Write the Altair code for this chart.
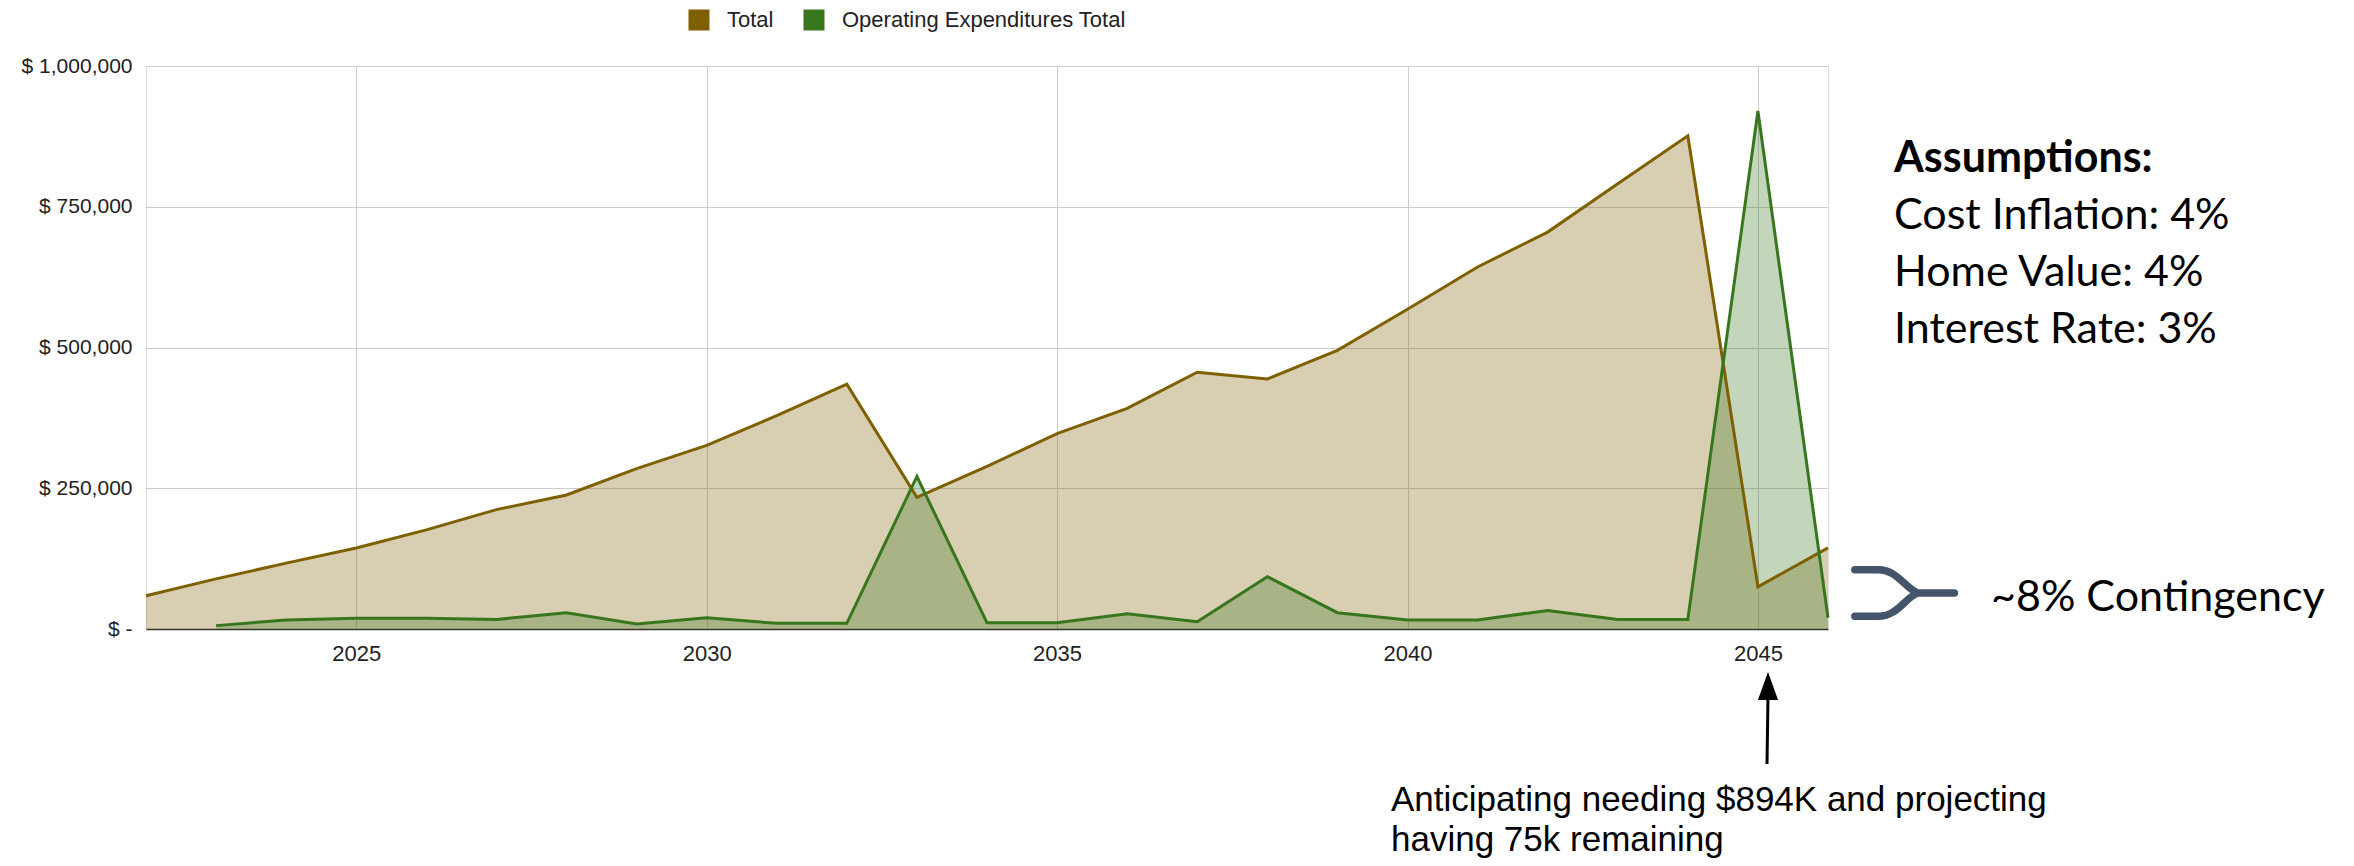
import altair as alt
import pandas as pd

# ---- data ----
years = list(range(2022, 2047))
total = [59000, 89000, 117000, 144000, 176000, 212000, 238000, 285000, 326000,
         379000, 435000, 234000, 289000, 347000, 392000, 456000, 444000, 495000,
         568000, 643000, 705000, 791000, 876000, 75000, 144000]
opex = [None, 6000, 16000, 19000, 19000, 17000, 29000, 9000, 20000, 10000,
        10000, 271000, 11000, 11000, 27000, 13000, 93000, 29000, 16000, 16000,
        33000, 17000, 17000, 920000, 20000]
series_names = ["Total", "Operating Expenditures Total"]
series_colors = ["#7f6000", "#38761d"]
x_ticks = [2025, 2030, 2035, 2040, 2045]
y_ticks = [0, 250000, 500000, 750000, 1000000]
assumptions_title = ["Assumptions:"]
assumptions_lines = ["Cost Inflation: 4%", "Home Value: 4%", "Interest Rate: 3%"]
contingency_label = ["~8% Contingency"]
note_lines = ["Anticipating needing $894K and projecting", "having 75k remaining"]

rows = []
for name, vals in zip(series_names, [total, opex]):
    for yr, v in zip(years, vals):
        if v is not None:
            rows.append({"year": yr, "value": v, "series": name})
df = pd.DataFrame(rows)

FONT = "Liberation Sans"
ANN_FONT = "Lato"

X = alt.X("year:Q",
          scale=alt.Scale(domain=[2022, 2046], nice=False, zero=False),
          axis=alt.Axis(values=x_ticks, format="d", title=None, grid=True,
                        gridColor="#cccccc", ticks=False, tickSize=0,
                        labelPadding=14, labelFontSize=22, labelFont=FONT,
                        labelColor="#222222", domainColor="#333333",
                        domainWidth=1.5))
Y = alt.Y("value:Q",
          scale=alt.Scale(domain=[0, 1000000], nice=False),
          axis=alt.Axis(values=y_ticks, title=None, grid=True,
                        gridColor="#cccccc", ticks=False, tickSize=0,
                        domain=False, labelPadding=14, labelFontSize=21,
                        labelFont=FONT, labelColor="#222222",
                        labelExpr="datum.value == 0 ? '$ -' : '$ ' + format(datum.value, ',')"))

base = alt.Chart(df).encode(x=X, y=Y)

color_enc = alt.Color("series:N",
                      scale=alt.Scale(domain=series_names, range=series_colors),
                      legend=alt.Legend(orient="none", legendX=542, legendY=-57,
                                        direction="horizontal", title=None,
                                        symbolType="square", symbolSize=441,
                                        symbolOpacity=1, symbolStrokeWidth=0,
                                        labelFontSize=22, labelFont=FONT,
                                        labelColor="#222222", labelOffset=17,
                                        labelLimit=0, columnPadding=29,
                                        padding=0))

area_total = base.transform_filter(alt.datum.series == series_names[0]).mark_area(
    fillOpacity=0.3).encode(color=color_enc)
area_opex = base.transform_filter(alt.datum.series == series_names[1]).mark_area(
    fillOpacity=0.3, color=series_colors[1])
line_total = base.transform_filter(alt.datum.series == series_names[0]).mark_line(
    color=series_colors[0], strokeWidth=3)
line_opex = base.transform_filter(alt.datum.series == series_names[1]).mark_line(
    color=series_colors[1], strokeWidth=3)

layers = [area_total, area_opex, line_total, line_opex]

# Assumptions block
layers.append(
    alt.Chart(pd.DataFrame({"t": assumptions_title})).mark_text(
        align="left", baseline="alphabetic", font=ANN_FONT, fontSize=43,
        fontWeight="bold", color="#000000").encode(
        x=alt.value(1748), y=alt.value(106), text="t:N"))
for i, line in enumerate(assumptions_lines):
    layers.append(
        alt.Chart(pd.DataFrame({"t": [line]})).mark_text(
            align="left", baseline="alphabetic", font=ANN_FONT, fontSize=43,
            color="#000000").encode(
            x=alt.value(1748), y=alt.value(163 + 57 * i), text="t:N"))

# Contingency brace and label
brace_path = ("M -0.93 -0.424 L -0.5 -0.424 C -0.15 -0.424 0.0 -0.06 0.22 0 L 0.88 0 "
              "M -0.93 0.424 L -0.5 0.424 C -0.15 0.424 0.0 0.06 0.22 0")
layers.append(
    alt.Chart(pd.DataFrame({"t": contingency_label})).mark_point(
        shape=brace_path, size=12100, filled=False, stroke="#44546a",
        strokeWidth=7.5, strokeCap="round", opacity=1).encode(
        x=alt.value(1760), y=alt.value(527)))
layers.append(
    alt.Chart(pd.DataFrame({"t": contingency_label})).mark_text(
        align="left", baseline="alphabetic", font=ANN_FONT, fontSize=43,
        color="#000000").encode(
        x=alt.value(1845), y=alt.value(545), text="t:N"))

# Arrow and note
layers.append(
    alt.Chart(pd.DataFrame({"t": note_lines[:1]})).mark_rule(
        color="#000000", strokeWidth=3).encode(
        x=alt.value(1621), x2=alt.value(1622), y=alt.value(698), y2=alt.value(630)))
layers.append(
    alt.Chart(pd.DataFrame({"t": note_lines[:1]})).mark_point(
        shape="M 0 -1 L 0.72 1 L -0.72 1 Z", size=784, filled=True,
        fill="#000000", stroke=None, opacity=1).encode(
        x=alt.value(1622), y=alt.value(620)))
for i, line in enumerate(note_lines):
    layers.append(
        alt.Chart(pd.DataFrame({"t": [line]})).mark_text(
            align="left", baseline="alphabetic", font=FONT, fontSize=35,
            color="#000000").encode(
            x=alt.value(1245), y=alt.value(745 + 40 * i), text="t:N"))

chart = alt.layer(*layers).properties(
    width=1682, height=563,
    autosize=alt.AutoSizeParams(type="none"),
    padding={"left": 138, "top": 58, "right": 500, "bottom": 229},
).configure_view(stroke=None).configure(background="white")

chart.save("out.html", embed_options={"renderer": "svg", "actions": False})
